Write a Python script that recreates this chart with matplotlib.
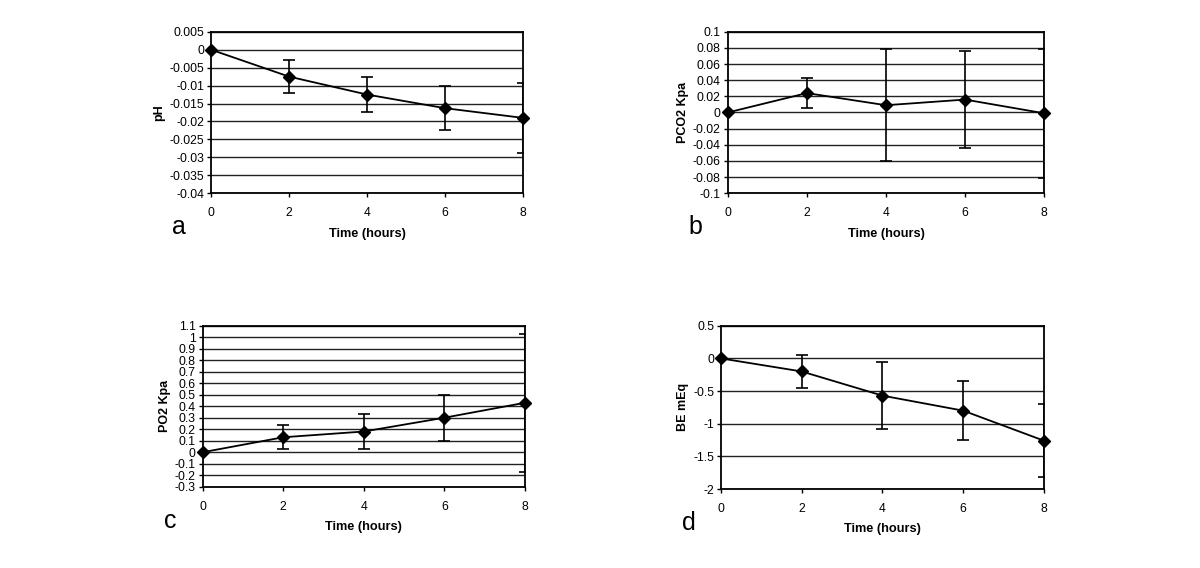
import numpy as np
import matplotlib.pyplot as plt

plt.rcParams["font.family"] = ["Liberation Sans", "DejaVu Sans"]

hours = [0, 2, 4, 6, 8]

ph_mean = [0, -0.0075, -0.0125, -0.0163, -0.019]
ph_err = [0, 0.0045, 0.005, 0.0062, 0.0097]

pco2_mean = [0, 0.024, 0.009, 0.016, -0.001]
pco2_err = [0, 0.019, 0.069, 0.06, 0.08]

po2_mean = [0, 0.13, 0.18, 0.30, 0.43]
po2_err = [0, 0.105, 0.15, 0.2, 0.6]

be_mean = [0, -0.2, -0.57, -0.8, -1.26]
be_err = [0, 0.25, 0.51, 0.45, 0.555]

panels = [
    # label, ylabel, mean, err, ylim, tick labels, axes rect
    ("a", "pH", ph_mean, ph_err, (-0.04, 0.005),
     ["-0.04", "-0.035", "-0.03", "-0.025", "-0.02", "-0.015", "-0.01", "-0.005", "0", "0.005"],
     [0.1758, 0.6597, 0.2600, 0.2845]),
    ("b", "PCO2 Kpa", pco2_mean, pco2_err, (-0.1, 0.1),
     ["-0.1", "-0.08", "-0.06", "-0.04", "-0.02", "0", "0.02", "0.04", "0.06", "0.08", "0.1"],
     [0.6064, 0.6597, 0.2638, 0.2845]),
    ("c", "PO2 Kpa", po2_mean, po2_err, (-0.3, 1.1),
     ["-0.3", "-0.2", "-0.1", "0", "0.1", "0.2", "0.3", "0.4", "0.5", "0.6",
      "0.7", "0.8", "0.9", "1", "1.1"],
     [0.1689, 0.1431, 0.2686, 0.2835]),
    ("d", "BE mEq", be_mean, be_err, (-2, 0.5),
     ["-2", "-1.5", "-1", "-0.5", "0", "0.5"],
     [0.6008, 0.1390, 0.2692, 0.2875]),
]

fig = plt.figure(figsize=(12, 5.68), dpi=100)

for letter, ylab, mean, err, ylim, ylabels, rect in panels:
    ax = fig.add_axes(rect)
    ticks = np.linspace(ylim[0], ylim[1], len(ylabels))
    for t in ticks:
        ax.axhline(t, color="#222222", lw=1.0, zorder=1)
    ax.errorbar(hours, mean, yerr=err, fmt="none", ecolor="black",
                elinewidth=1.2, capsize=4, capthick=1.2, zorder=3)
    ax.plot(hours, mean, "-", color="black", lw=1.3, zorder=4, clip_on=False)
    ax.plot(hours, mean, "D", color="black", ms=6.5, zorder=5, clip_on=False)
    ax.set_xlim(0, 8)
    ax.set_ylim(*ylim)
    ax.set_xticks(hours)
    ax.set_yticks(ticks)
    ax.set_yticklabels(ylabels)
    ax.tick_params(labelsize=8.7, length=3, width=1, direction="out", pad=2)
    ax.tick_params(axis="x", pad=7)
    for s in ax.spines.values():
        s.set_linewidth(1.3)
        s.set_color("black")
    ax.set_xlabel("Time (hours)", fontsize=9.2, fontweight="bold", labelpad=6)
    ax.set_ylabel(ylab, fontsize=9, fontweight="bold", labelpad=3)
    fx = rect[0] - 0.027
    fy = rect[1] - 0.060
    fig.text(fx, fy, letter, fontsize=18, ha="center", va="center")

fig.savefig("out.png", dpi=100, facecolor="white")
